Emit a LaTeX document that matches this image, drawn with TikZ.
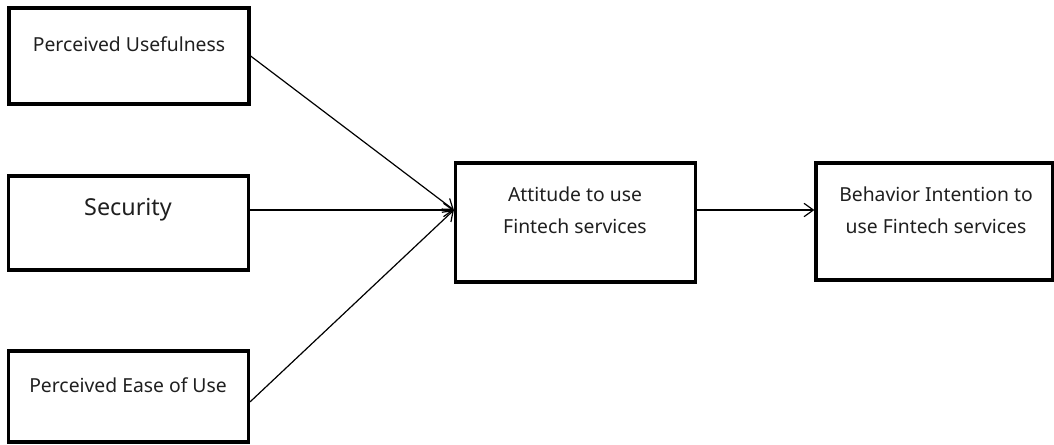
\documentclass[tikz,border=0pt]{standalone}
\usepackage{fontspec}
\setmainfont{Noto Sans}
\usetikzlibrary{arrows.meta}

\begin{document}
\begin{tikzpicture}[x=0.75pt, y=-0.75pt,
	factor/.style={draw, line width=2.4pt, inner sep=0pt, minimum width=180pt},
	lbl/.style={font=\fontsize{14.5}{24}\selectfont, align=center, inner sep=0pt, text=black!88},
	>={Straight Barb[length=7pt, width=10pt]}]
	\useasboundingbox (0,0) rectangle (1054,444);

	% the three factors on the left
	\node [factor, minimum height=72pt] (pu) at (129,56) {};
	\node [lbl] (putxt) at (129,44) {Perceived Usefulness};
	\node [factor, minimum height=70.5pt] (sec) at (128.5,223) {};
	\node [lbl, font=\fontsize{17.5}{24}\selectfont] (sectxt) at (128,210) {Security};
	\node [factor, minimum height=68.25pt] (peou) at (128.5,396.5) {};
	\node [lbl] (peoutxt) at (128,385) {Perceived Ease of Use};

	% attitude and intention
	\node [factor, minimum height=89.25pt] (att) at (575.5,222.5) {};
	\node [lbl] (atttxt) at (575,210) {Attitude to use\\Fintech services};
	\node [factor, minimum width=177.75pt, minimum height=87.75pt] (beh) at (934.5,221.5) {};
	\node [lbl] (behtxt) at (936,210) {Behavior Intention to\\use Fintech services};

	\coordinate (attin) at (att.west |- atttxt);
	\draw [->, line width=0.9pt] (pu.east) -- (attin);
	\draw [->, line width=0.9pt] (sec.east |- sectxt) -- (attin);
	\draw [->, line width=0.9pt] ([yshift=-4pt]peou.east) -- (attin);
	\draw [->, line width=0.9pt] (att.east |- atttxt) -- (beh.west |- atttxt);
\end{tikzpicture}
\end{document}
